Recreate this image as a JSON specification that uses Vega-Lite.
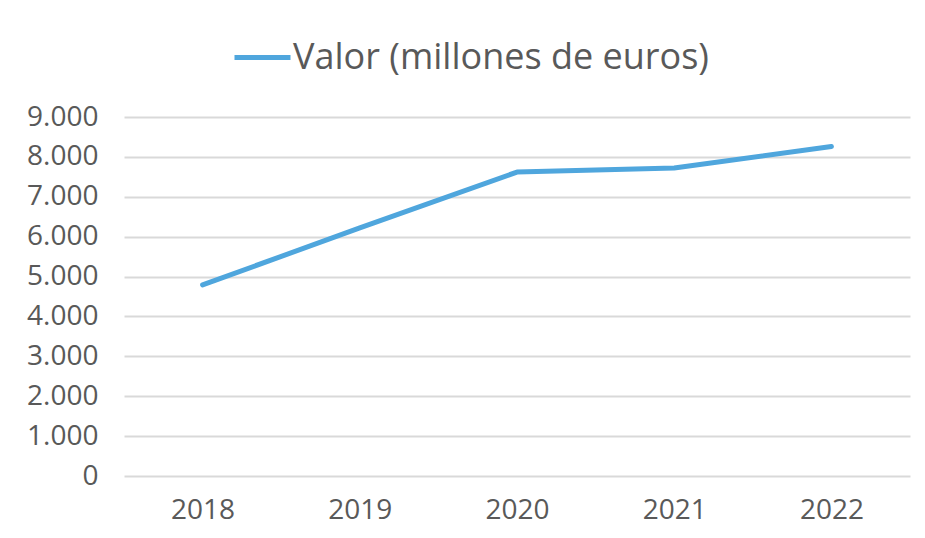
{
  "$schema": "https://vega.github.io/schema/vega-lite/v6.json",
  "autosize": {"type": "none"},
  "width": 786,
  "height": 359,
  "padding": {"left": 124, "top": 117, "right": 15, "bottom": 62},
  "background": "#ffffff",
  "config": {
    "locale": {"number": {"decimal": ",", "thousands": ".", "grouping": [3], "currency": ["", " €"]}},
    "view": {"stroke": null},
    "font": "Open Sans"
  },
  "data": {
    "values": [
      {"year": "2018", "valor": 4790, "serie": "Valor (millones de euros)"},
      {"year": "2019", "valor": 6220, "serie": "Valor (millones de euros)"},
      {"year": "2020", "valor": 7620, "serie": "Valor (millones de euros)"},
      {"year": "2021", "valor": 7720, "serie": "Valor (millones de euros)"},
      {"year": "2022", "valor": 8260, "serie": "Valor (millones de euros)"}
    ]
  },
  "mark": {"type": "line", "strokeWidth": 5, "strokeCap": "round", "strokeJoin": "round"},
  "encoding": {
    "x": {
      "field": "year",
      "type": "ordinal",
      "title": null,
      "axis": {
        "labelAngle": 0,
        "domain": false,
        "ticks": false,
        "grid": false,
        "labelFontSize": 28,
        "labelColor": "#595959",
        "labelPadding": 20
      }
    },
    "y": {
      "field": "valor",
      "type": "quantitative",
      "title": null,
      "scale": {"domain": [0, 9000], "nice": false},
      "axis": {
        "values": [0, 1000, 2000, 3000, 4000, 5000, 6000, 7000, 8000, 9000],
        "format": ",.0f",
        "domain": false,
        "ticks": false,
        "gridColor": "#d9d9d9",
        "gridWidth": 2,
        "labelFontSize": 28,
        "labelColor": "#595959",
        "labelPadding": 26
      }
    },
    "color": {
      "field": "serie",
      "type": "nominal",
      "title": null,
      "scale": {"range": ["#4fa6dd"]},
      "legend": {
        "orient": "none",
        "legendX": 108,
        "legendY": -90,
        "symbolType": "stroke",
        "symbolSize": 3136,
        "symbolStrokeWidth": 5,
        "labelFontSize": 36,
        "labelColor": "#595959",
        "labelOffset": 0,
        "labelLimit": 700
      }
    }
  }
}
